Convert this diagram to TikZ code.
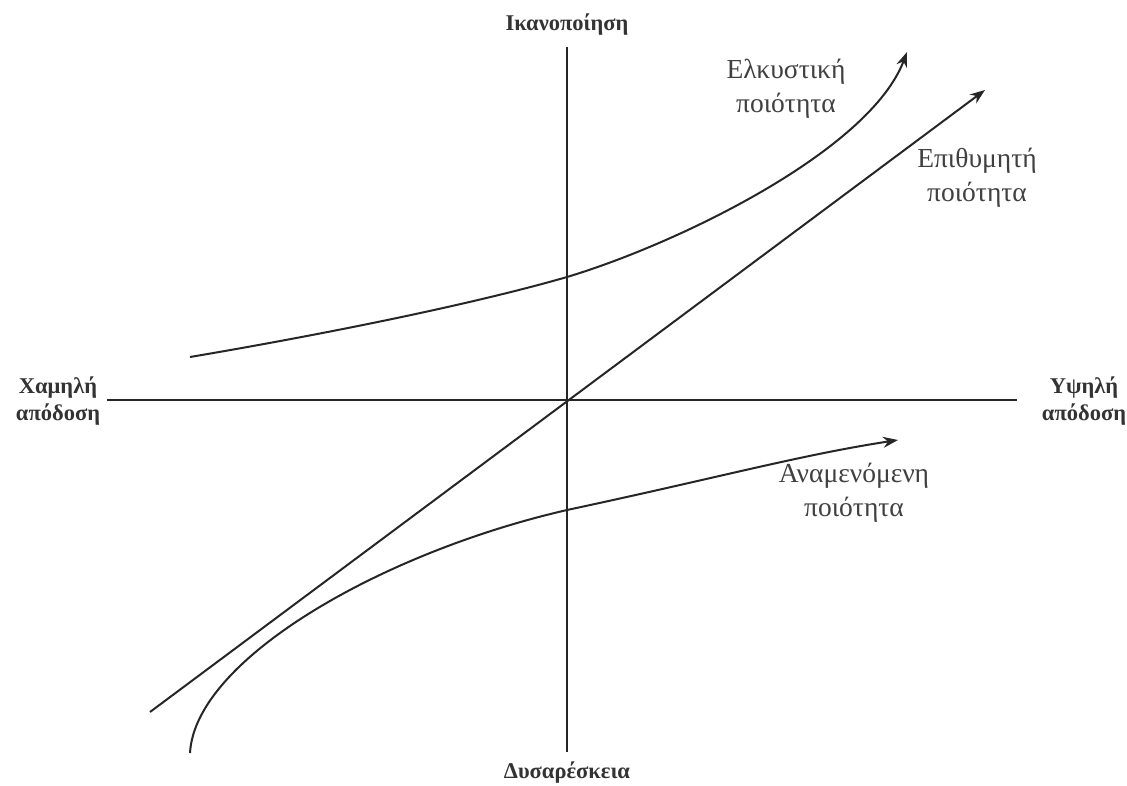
\documentclass[tikz,border=0pt]{standalone}
\usepackage{fontspec}
\setmainfont{Liberation Serif}
\usetikzlibrary{arrows.meta}
\begin{document}
\begin{tikzpicture}[x=1pt,y=-1pt,
  axis/.style={line width=1.6pt, black!85},
  curve/.style={line width=2pt, black!85, -{Stealth[length=15pt,width=11pt]}},
  axlabel/.style={font=\fontsize{22.5}{27}\selectfont\bfseries, align=center, inner sep=0pt, text=black!80},
  qlabel/.style={font=\fontsize{27.5}{34}\selectfont, align=center, inner sep=0pt, text=black!75}]
\useasboundingbox (0,0) rectangle (1127,785);
% axes
\coordinate (vtop) at (567,47);
\coordinate (vbot) at (567,752);
\coordinate (hleft) at (107,400);
\coordinate (hright) at (1017,400);
\draw[axis] (vtop) -- (vbot);
\draw[axis] (hleft) -- (hright);
% labels
\node[axlabel] (sat) at (567,25) {Ικανοποίηση};
\node[axlabel] (dis) at (567,773) {Δυσαρέσκεια};
\node[axlabel] (low) at (58,401) {Χαμηλή\\απόδοση};
\node[axlabel] (high) at (1084,401) {Υψηλή\\απόδοση};
% desired quality (line)
\coordinate (dstart) at (150,712);
\coordinate (dend) at (985,90);
\draw[curve] (dstart) -- (dend);
% attractive quality
\coordinate (astart) at (190,357);
\coordinate (amid) at (567,277);
\coordinate (aend) at (907,52);
\draw[curve] (astart) .. controls (320,335) and (470,305) .. (amid)
  .. controls (680,243) and (870,150) .. (aend);
% expected quality
\coordinate (estart) at (190,753);
\coordinate (emid) at (567,510);
\coordinate (eend) at (898,440);
\draw[curve] (estart) .. controls (195,660) and (380,553) .. (emid)
  .. controls (717,478) and (800,455) .. (eend);
% quality labels
\node[qlabel] (att) at (786,89) {Ελκυστική\\ποιότητα};
\node[qlabel] (des) at (977,178) {Επιθυμητή\\ποιότητα};
\node[qlabel] (exp) at (854,493) {Αναμενόμενη\\ποιότητα};
\end{tikzpicture}
\end{document}
